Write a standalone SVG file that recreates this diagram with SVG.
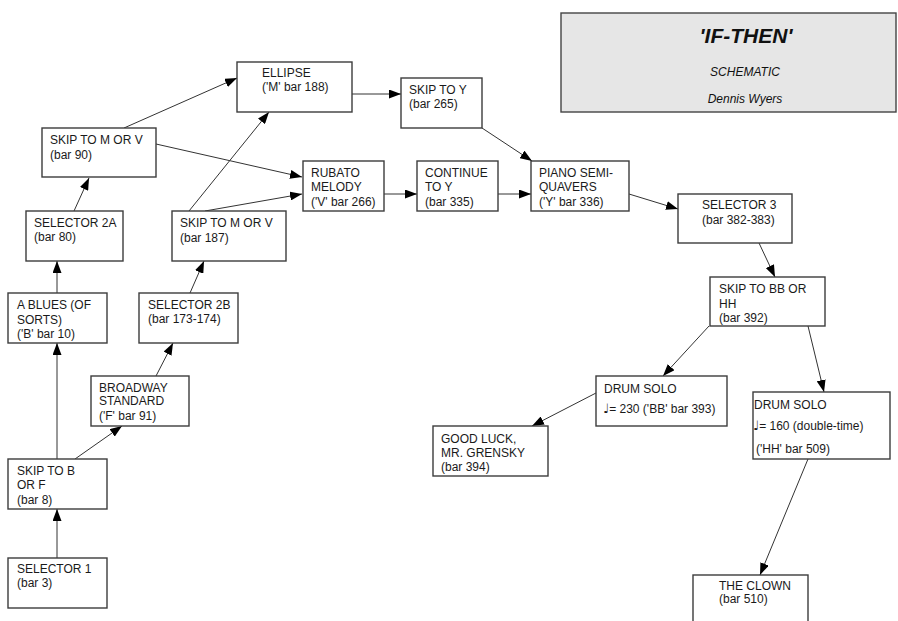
<svg xmlns="http://www.w3.org/2000/svg" width="898" height="621" viewBox="0 0 898 621">
<style>
.box{fill:#fff;stroke:#3c3c3c;stroke-width:1.4}
.t{font-family:"Liberation Sans","DejaVu Sans",Arial,sans-serif;font-size:12px;fill:#1a1a1a}
.c{stroke:#333;stroke-width:1;fill:none;marker-end:url(#ah)}
.ti{font-family:"Liberation Sans",Arial,sans-serif;font-style:italic;fill:#111;text-anchor:middle}
.n{font-family:"DejaVu Sans",sans-serif;font-size:13px}
</style>
<defs>
<marker id="ah" markerUnits="userSpaceOnUse" viewBox="0 0 12 9" markerWidth="12" markerHeight="9" refX="12" refY="4.5" orient="auto">
<path d="M0,0 L12,4.5 L0,9 z" fill="#000"/>
</marker>
</defs>
<rect width="898" height="621" fill="#fff"/>
<g id="title">
<rect x="561" y="13" width="335" height="99" fill="#e6e6e6" stroke="#444" stroke-width="1.4"/>
<text class="ti" x="746" y="43" font-size="21" font-weight="bold">'IF-THEN'</text>
<text class="ti" x="745" y="76" font-size="12">SCHEMATIC</text>
<text class="ti" x="745" y="103" font-size="12">Dennis Wyers</text>
</g>
<g id="connectors">
<line class="c" x1="57" y1="558" x2="57" y2="509"/>
<line class="c" x1="57" y1="459" x2="57" y2="343"/>
<line class="c" x1="75" y1="459" x2="122" y2="426"/>
<line class="c" x1="156" y1="376" x2="173" y2="343"/>
<line class="c" x1="190" y1="293" x2="204" y2="261"/>
<line class="c" x1="57" y1="293" x2="57" y2="261"/>
<line class="c" x1="74" y1="211" x2="89" y2="178"/>
<line class="c" x1="124" y1="128" x2="237" y2="78"/>
<line class="c" x1="156" y1="144" x2="302" y2="177"/>
<line class="c" x1="189" y1="211" x2="269" y2="112"/>
<line class="c" x1="205" y1="211" x2="302" y2="194"/>
<line class="c" x1="352" y1="94" x2="401" y2="94"/>
<line class="c" x1="482" y1="128" x2="532" y2="161"/>
<line class="c" x1="384" y1="194" x2="417" y2="194"/>
<line class="c" x1="498" y1="194" x2="531" y2="194"/>
<line class="c" x1="629" y1="194" x2="678" y2="209"/>
<line class="c" x1="759" y1="243" x2="775" y2="277"/>
<line class="c" x1="709" y1="326" x2="663" y2="376"/>
<line class="c" x1="808" y1="326" x2="824" y2="392"/>
<line class="c" x1="596" y1="393" x2="532" y2="426"/>
<line class="c" x1="808" y1="459" x2="760" y2="575"/>
</g>
<g id="selector1">
<rect class="box" x="8" y="558" width="99" height="50"/>
<text class="t" x="17" y="573">SELECTOR 1</text>
<text class="t" x="17" y="587">(bar 3)</text>
</g>
<g id="skipBF">
<rect class="box" x="8" y="459" width="99" height="50"/>
<text class="t" x="17" y="475">SKIP TO B</text>
<text class="t" x="17" y="489">OR F</text>
<text class="t" x="17" y="504">(bar 8)</text>
</g>
<g id="broadway">
<rect class="box" x="91" y="376" width="98" height="50"/>
<text class="t" x="99" y="392">BROADWAY</text>
<text class="t" x="99" y="405">STANDARD</text>
<text class="t" x="99" y="420">('F' bar 91)</text>
</g>
<g id="blues">
<rect class="box" x="8" y="293" width="99" height="50"/>
<text class="t" x="17" y="309">A BLUES (OF</text>
<text class="t" x="17" y="324">SORTS)</text>
<text class="t" x="17" y="338">('B' bar 10)</text>
</g>
<g id="selector2b">
<rect class="box" x="139" y="293" width="99" height="50"/>
<text class="t" x="148" y="309">SELECTOR 2B</text>
<text class="t" x="148" y="323">(bar 173-174)</text>
</g>
<g id="selector2a">
<rect class="box" x="26" y="211" width="97" height="50"/>
<text class="t" x="34" y="227">SELECTOR 2A</text>
<text class="t" x="34" y="241">(bar 80)</text>
</g>
<g id="skipMV187">
<rect class="box" x="172" y="211" width="114" height="50"/>
<text class="t" x="180" y="227">SKIP TO M OR V</text>
<text class="t" x="180" y="242">(bar 187)</text>
</g>
<g id="skipMV90">
<rect class="box" x="42" y="128" width="114" height="49"/>
<text class="t" x="50" y="144">SKIP TO M OR V</text>
<text class="t" x="50" y="159">(bar 90)</text>
</g>
<g id="ellipse">
<rect class="box" x="237" y="62" width="115" height="50"/>
<text class="t" x="262" y="77">ELLIPSE</text>
<text class="t" x="262" y="91">('M' bar 188)</text>
</g>
<g id="skipY">
<rect class="box" x="401" y="78" width="81" height="50"/>
<text class="t" x="409" y="94">SKIP TO Y</text>
<text class="t" x="409" y="108">(bar 265)</text>
</g>
<g id="rubato">
<rect class="box" x="303" y="161" width="81" height="50"/>
<text class="t" x="311" y="177">RUBATO</text>
<text class="t" x="311" y="191">MELODY</text>
<text class="t" x="311" y="206">('V' bar 266)</text>
</g>
<g id="continueY">
<rect class="box" x="417" y="161" width="81" height="50"/>
<text class="t" x="425" y="177">CONTINUE</text>
<text class="t" x="425" y="191">TO Y</text>
<text class="t" x="425" y="206">(bar 335)</text>
</g>
<g id="piano">
<rect class="box" x="531" y="161" width="98" height="50"/>
<text class="t" x="539" y="177">PIANO SEMI-</text>
<text class="t" x="539" y="191">QUAVERS</text>
<text class="t" x="539" y="206">('Y' bar 336)</text>
</g>
<g id="selector3">
<rect class="box" x="678" y="194" width="114" height="49"/>
<text class="t" x="702" y="209">SELECTOR 3</text>
<text class="t" x="702" y="224">(bar 382-383)</text>
</g>
<g id="skipBBHH">
<rect class="box" x="710" y="277" width="115" height="49"/>
<text class="t" x="719" y="293">SKIP TO BB OR</text>
<text class="t" x="719" y="308">HH</text>
<text class="t" x="719" y="322">(bar 392)</text>
</g>
<g id="drum230">
<rect class="box" x="596" y="376" width="131" height="50"/>
<text class="t" x="604" y="393">DRUM SOLO</text>
<text class="t" x="603" y="413"><tspan class="n">♩</tspan>= 230 ('BB' bar 393)</text>
</g>
<g id="goodluck">
<rect class="box" x="433" y="426" width="115" height="50"/>
<text class="t" x="441" y="443">GOOD LUCK,</text>
<text class="t" x="441" y="457">MR. GRENSKY</text>
<text class="t" x="441" y="471">(bar 394)</text>
</g>
<g id="drum160">
<rect class="box" x="753" y="392" width="137" height="67"/>
<text class="t" x="754" y="409">DRUM SOLO</text>
<text class="t" x="753" y="430"><tspan class="n">♩</tspan>= 160 (double-time)</text>
<text class="t" x="756" y="453">('HH' bar 509)</text>
</g>
<g id="clown">
<rect class="box" x="693" y="575" width="115" height="60"/>
<text class="t" x="719" y="590">THE CLOWN</text>
<text class="t" x="719" y="603">(bar 510)</text>
</g>
</svg>
